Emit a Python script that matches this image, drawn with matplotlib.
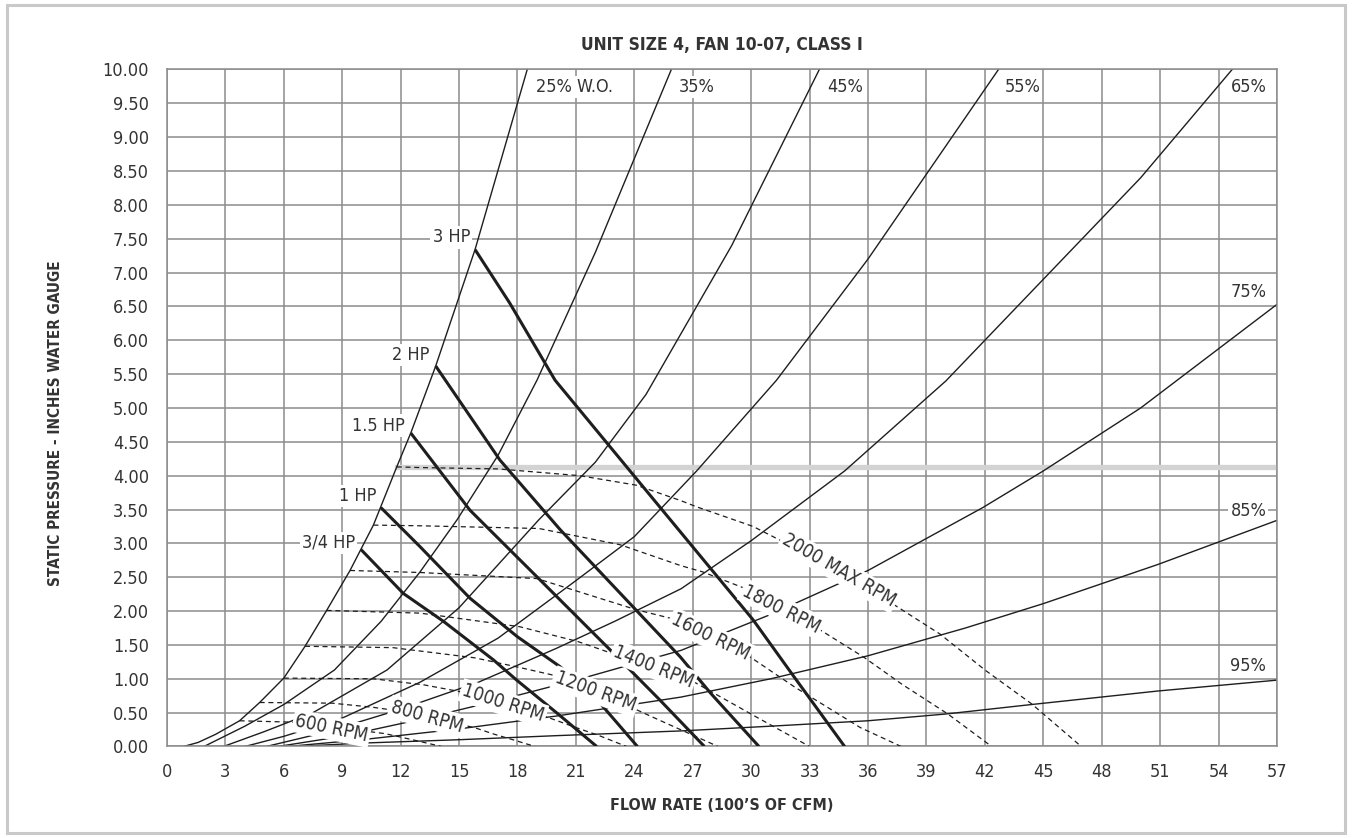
import numpy as np
import matplotlib.pyplot as plt
from matplotlib.patches import Rectangle

plt.rcParams['font.family'] = ['DejaVu Sans']
plt.rcParams['font.stretch'] = 'condensed'

INK = '#1e1e1e'
TXT = '#333333'
GRID = '#8c8c8c'

# system curves (% wide open): flow (100's CFM) vs static pressure (in. w.g.)
wo25_x = [0.85, 1.6, 2.5, 3.73, 4.76, 6.0, 7.09, 8.2, 9.4, 10.6, 11.8, 12.52, 13.8, 15.82, 18.5]
wo25_y = [0.0, 0.06, 0.18, 0.38, 0.65, 1.01, 1.48, 2.01, 2.6, 3.27, 4.13, 4.63, 5.62, 7.34, 10.0]
wo35_x = [1.9, 4.0, 6.0, 8.6, 11.0, 13.0, 14.9, 17.0, 19.0, 22.0, 25.9]
wo35_y = [0.0, 0.3, 0.62, 1.13, 1.85, 2.58, 3.35, 4.3, 5.41, 7.3, 10.0]
wo45_x = [2.9, 5.0, 7.5, 11.3, 15.0, 19.1, 22.0, 24.6, 29.0, 33.5]
wo45_y = [0.0, 0.22, 0.5, 1.13, 2.05, 3.35, 4.2, 5.2, 7.4, 10.0]
wo55_x = [4.0, 6.0, 9.0, 13.0, 17.0, 21.0, 24.0, 27.2, 31.3, 36.0, 42.7]
wo55_y = [0.0, 0.15, 0.42, 0.95, 1.6, 2.45, 3.1, 4.07, 5.41, 7.2, 10.0]
wo65_x = [5.1, 8.0, 12.0, 16.0, 20.0, 23.0, 26.4, 30.0, 34.8, 40.0, 45.0, 50.0, 54.7]
wo65_y = [0.0, 0.2, 0.55, 0.95, 1.45, 1.85, 2.33, 3.04, 4.07, 5.4, 6.9, 8.4, 10.0]
wo75_x = [5.7, 9.0, 13.0, 17.0, 21.0, 26.4, 31.0, 36.0, 41.9, 45.0, 50.0, 57.0]
wo75_y = [0.0, 0.15, 0.4, 0.68, 0.98, 1.42, 1.95, 2.6, 3.53, 4.07, 5.0, 6.53]
wo85_x = [6.2, 10.0, 15.0, 20.0, 26.4, 31.0, 36.0, 41.0, 45.0, 50.9, 57.0]
wo85_y = [0.0, 0.1, 0.26, 0.45, 0.73, 1.0, 1.34, 1.75, 2.11, 2.69, 3.34]
wo95_x = [6.6, 10.0, 15.0, 20.0, 26.4, 31.0, 36.0, 40.0, 44.4, 50.9, 57.0]
wo95_y = [0.0, 0.05, 0.1, 0.16, 0.23, 0.3, 0.38, 0.48, 0.62, 0.82, 0.98]

# fan speed curves (dashed)
rpm2000_x = [11.8, 13.0, 17.0, 21.2, 24.1, 26.4, 27.2, 30.1, 31.8, 34.5, 37.25, 39.7, 42.05, 44.4, 46.95]
rpm2000_y = [4.13, 4.12, 4.1, 4.0, 3.86, 3.63, 3.54, 3.25, 3.0, 2.6, 2.11, 1.66, 1.12, 0.63, 0.0]
rpm1800_x = [10.6, 13.0, 19.1, 23.27, 26.4, 27.5, 29.9, 31.6, 33.33, 35.78, 37.74, 40.1, 42.35]
rpm1800_y = [3.27, 3.26, 3.22, 2.98, 2.67, 2.58, 2.31, 2.05, 1.76, 1.32, 0.92, 0.48, 0.0]
rpm1600_x = [9.4, 13.0, 19.0, 24.1, 26.2, 27.9, 29.7, 32.25, 35.6, 37.7]
rpm1600_y = [2.6, 2.57, 2.48, 2.02, 1.87, 1.62, 1.37, 0.875, 0.28, 0.0]
rpm1400_x = [8.2, 13.0, 18.1, 21.1, 23.3, 25.0, 26.96, 30.3, 33.0]
rpm1400_y = [2.01, 1.97, 1.77, 1.55, 1.33, 1.18, 0.97, 0.43, 0.0]
rpm1200_x = [7.09, 11.6, 15.8, 18.06, 20.2, 22.0, 23.6, 25.2, 28.3]
rpm1200_y = [1.48, 1.46, 1.31, 1.17, 1.03, 0.8, 0.61, 0.4, 0.0]
rpm1000_x = [6.0, 10.6, 13.2, 15.05, 17.27, 18.6, 21.0, 22.2, 23.6]
rpm1000_y = [1.01, 1.0, 0.91, 0.81, 0.64, 0.53, 0.28, 0.16, 0.0]
rpm800_x = [4.76, 8.48, 10.55, 12.04, 13.37, 14.9, 15.88, 16.82, 17.76, 18.9]
rpm800_y = [0.65, 0.64, 0.58, 0.52, 0.44, 0.34, 0.27, 0.18, 0.1, 0.0]
rpm600_x = [3.73, 6.36, 7.91, 8.45, 9.03, 11.2, 12.6, 14.1]
rpm600_y = [0.38, 0.36, 0.33, 0.3, 0.27, 0.19, 0.1, 0.0]

# brake horsepower curves (bold)
hp075_x = [9.96, 12.14, 14.19, 16.76, 17.96, 20.0, 22.07]
hp075_y = [2.91, 2.26, 1.85, 1.28, 0.98, 0.5, 0.0]
hp1_x = [10.98, 13.0, 15.56, 18.0, 20.18, 22.0, 24.16]
hp1_y = [3.53, 2.95, 2.19, 1.62, 1.18, 0.72, 0.0]
hp15_x = [12.52, 15.56, 19.16, 23.27, 25.3, 27.6]
hp15_y = [4.63, 3.49, 2.46, 1.28, 0.69, 0.0]
hp2_x = [13.8, 17.1, 20.2, 26.37, 27.94, 30.4]
hp2_y = [5.62, 4.23, 3.2, 1.32, 0.78, 0.0]
hp3_x = [15.82, 17.6, 19.93, 25.3, 30.1, 32.2, 34.8]
hp3_y = [7.34, 6.55, 5.41, 3.54, 1.87, 1.03, 0.0]

# label text and placement
wo_top_labels = ['25% W.O.', '35%', '45%', '55%']
wo_top_x = [18.95, 26.3, 33.9, 43.0]
wo_right_labels = ['65%', '75%', '85%', '95%']
wo_right_y = [9.74, 6.72, 3.48, 1.19]
rpm_labels = ['2000 MAX RPM', '1800 RPM', '1600 RPM', '1400 RPM',
              '1200 RPM', '1000 RPM', '800 RPM', '600 RPM']
rpm_label_x = [34.5, 31.57, 27.9, 24.98, 22.0, 17.27, 13.37, 8.45]
rpm_label_y = [2.6, 2.03, 1.62, 1.18, 0.81, 0.64, 0.44, 0.27]
rpm_label_rot = [-30, -27, -26, -22, -20, -18, -16, -12]
hp_labels = ['3 HP', '2 HP', '1.5 HP', '1 HP', '3/4 HP']
hp_label_x = [15.56, 13.5, 12.2, 10.73, 9.66]
hp_label_y = [7.52, 5.78, 4.74, 3.7, 3.01]

max_rpm_sp = 4.13

fig = plt.figure(figsize=(13.52, 8.38), dpi=100)
ax = fig.add_axes([0.1235, 0.1092, 0.821, 0.8079])

# outer frame
fig.patches.append(Rectangle((0.005, 0.006), 0.99, 0.988, transform=fig.transFigure,
                             fill=False, ec='#c9c9c9', lw=2.2))

ax.set_xlim(0, 57)
ax.set_ylim(0, 10)
ax.set_xticks(np.arange(0, 58, 3))
ax.set_yticks(np.arange(0, 10.01, 0.5))
ax.set_yticklabels([f'{v:.2f}' for v in np.arange(0, 10.01, 0.5)])
ax.grid(True, color=GRID, lw=1.1, zorder=0)
ax.set_axisbelow(True)
for s in ax.spines.values():
    s.set_color(GRID)
    s.set_linewidth(1.1)
ax.tick_params(length=0, labelsize=13, labelcolor=TXT)
ax.tick_params(axis='x', pad=12)
ax.tick_params(axis='y', pad=13)

ax.axhline(max_rpm_sp, xmin=11.8 / 57, xmax=1, color='#d3d3d3', lw=3.8, zorder=1)

for xs, ys in [(wo25_x, wo25_y), (wo35_x, wo35_y), (wo45_x, wo45_y), (wo55_x, wo55_y),
               (wo65_x, wo65_y), (wo75_x, wo75_y), (wo85_x, wo85_y), (wo95_x, wo95_y)]:
    ax.plot(xs, ys, color=INK, lw=1.0, zorder=2)

for xs, ys in [(rpm2000_x, rpm2000_y), (rpm1800_x, rpm1800_y), (rpm1600_x, rpm1600_y),
               (rpm1400_x, rpm1400_y), (rpm1200_x, rpm1200_y), (rpm1000_x, rpm1000_y),
               (rpm800_x, rpm800_y), (rpm600_x, rpm600_y)]:
    ax.plot(xs, ys, color=INK, lw=0.9, ls=(0, (4, 3)), zorder=3)

for xs, ys in [(hp075_x, hp075_y), (hp1_x, hp1_y), (hp15_x, hp15_y),
               (hp2_x, hp2_y), (hp3_x, hp3_y)]:
    ax.plot(xs, ys, color=INK, lw=2.2, zorder=4, solid_capstyle='butt')

box = dict(boxstyle='square,pad=0.12', fc='white', ec='none')
for t, x in zip(wo_top_labels, wo_top_x):
    ax.text(x, 9.74, t, ha='left', va='center', fontsize=13, color=TXT, bbox=box, zorder=6)
for t, y in zip(wo_right_labels, wo_right_y):
    ax.text(56.45, y, t, ha='right', va='center', fontsize=13, color=TXT, bbox=box, zorder=6)
for t, x, y, r in zip(rpm_labels, rpm_label_x, rpm_label_y, rpm_label_rot):
    ax.text(x, y, t, ha='center', va='center', rotation=r, rotation_mode='anchor',
            fontsize=13.5, color=TXT, bbox=box, zorder=6)
for t, x, y in zip(hp_labels, hp_label_x, hp_label_y):
    ax.text(x, y, t, ha='right', va='center', fontsize=13, color=TXT, bbox=box, zorder=6)

ax.set_title('UNIT SIZE 4, FAN 10-07, CLASS I', fontsize=12.5, fontweight='bold',
             color=TXT, pad=14)
ax.set_xlabel('FLOW RATE (100’S OF CFM)', fontsize=11.5, fontweight='bold',
              color=TXT, labelpad=12)
ax.set_ylabel('STATIC PRESSURE - INCHES WATER GAUGE', fontsize=11, fontweight='bold',
              color=TXT)
ax.yaxis.set_label_coords(-0.0935, 0.478)

fig.savefig('out.png', dpi=100)
